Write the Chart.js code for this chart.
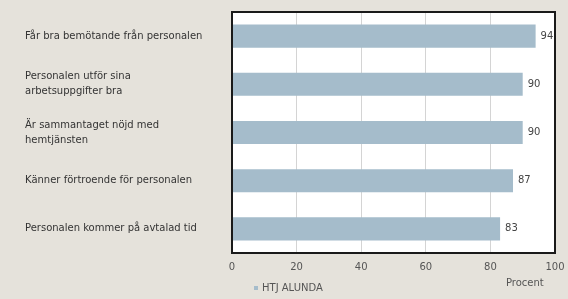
<!DOCTYPE html>
<html>
<head>
<meta charset="utf-8">
<script src="https://cdn.jsdelivr.net/npm/chart.js@4"></script>
<style>
  html, body { margin: 0; padding: 0; background: #e5e2db; }
  #chart { display: block; }
</style>
</head>
<body>
<canvas id="chart" width="568" height="299"></canvas>
<script>
const categories = [
    ['Får bra bemötande från personalen'],
    ['Personalen utför sina', 'arbetsuppgifter bra'],
    ['Är sammantaget nöjd med', 'hemtjänsten'],
    ['Känner förtroende för personalen'],
    ['Personalen kommer på avtalad tid']
];
const values = [94, 90, 90, 87, 83];
const seriesName = 'HTJ ALUNDA';
const axisTitle = 'Procent';

const fontFamily = '"DejaVu Sans", sans-serif';

const extras = {
    id: 'extras',
    beforeDraw: function (chart) {
        const a = chart.chartArea;
        const ctx = chart.ctx;
        ctx.save();
        ctx.fillStyle = '#ffffff';
        ctx.fillRect(a.left, a.top, a.right - a.left, a.bottom - a.top);
        ctx.restore();
    },
    afterDatasetsDraw: function (chart) {
        const ctx = chart.ctx;
        const a = chart.chartArea;
        const meta = chart.getDatasetMeta(0);
        ctx.save();
        ctx.font = '10px ' + fontFamily;
        ctx.fillStyle = '#444';
        ctx.textBaseline = 'middle';
        ctx.textAlign = 'left';
        meta.data.forEach(function (bar, i) {
            ctx.fillText(String(values[i]), bar.x + 5, bar.y);
        });
        // plot frame
        ctx.strokeStyle = '#1a1a1a';
        ctx.lineWidth = 2;
        ctx.strokeRect(a.left, a.top, a.right - a.left, a.bottom - a.top);
        // legend
        ctx.fillStyle = '#a5bccb';
        ctx.fillRect(a.left + 22, 286, 4, 4);
        ctx.fillStyle = '#555';
        ctx.fillText(seriesName, a.left + 30, 288);
        // axis title
        ctx.fillText(axisTitle, 506, 283);
        ctx.restore();
    }
};

new Chart(document.getElementById('chart'), {
    type: 'bar',
    data: {
        labels: categories,
        datasets: [{
            label: seriesName,
            data: values,
            backgroundColor: '#a5bccb',
            borderWidth: 0,
            barPercentage: 0.48,
            categoryPercentage: 1
        }]
    },
    options: {
        indexAxis: 'y',
        responsive: false,
        animation: false,
        layout: { padding: { left: 25, top: 12, right: 13, bottom: 18 } },
        plugins: {
            legend: { display: false },
            tooltip: { enabled: false }
        },
        scales: {
            x: {
                min: 0,
                max: 100,
                afterFit: function (scale) { scale.paddingRight = 0; },
                ticks: { stepSize: 20, padding: 8, color: '#555', font: { family: fontFamily, size: 10 } },
                grid: { color: '#d4d4d4', drawTicks: false },
                border: { display: false }
            },
            y: {
                afterFit: function (scale) { scale.width = 207; },
                ticks: {
                    crossAlign: 'far',
                    color: '#333',
                    font: { family: fontFamily, size: 10, lineHeight: 1.5 }
                },
                grid: { display: false, drawTicks: false },
                border: { display: false }
            }
        }
    },
    plugins: [extras]
});
</script>
</body>
</html>
